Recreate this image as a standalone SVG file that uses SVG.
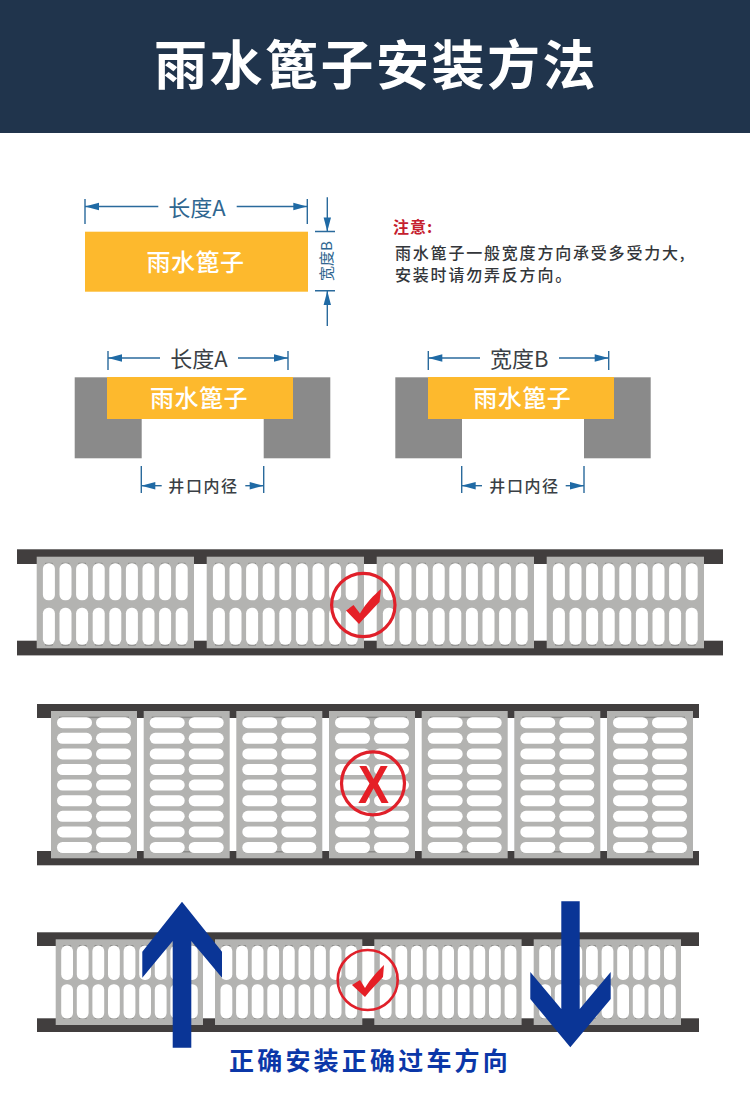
<svg xmlns="http://www.w3.org/2000/svg" width="750" height="1109" viewBox="0 0 750 1109">
<style>
text{font-family:"Noto Sans CJK SC","Liberation Sans",sans-serif}
.latin{font-family:"Liberation Sans","Noto Sans CJK SC",sans-serif}
.yellow{fill:#fdb92d}
.block{fill:#8a8a8a}
.rail{fill:#413e3e}
.panel{fill:#b3b3b1}
.slot{fill:#fff}
.sh{fill:#8c8c8a}
.dim{stroke:#2a6a9c;stroke-width:1.4;fill:none}
.arr{stroke:#2a6a9c;stroke-width:1.4;fill:none;marker-start:url(#head)}
.onY{fill:#fff;font-size:24px;font-weight:500;text-anchor:middle;letter-spacing:.5px}
.dl{font-size:22px;text-anchor:middle}
.well{font-size:16px;font-weight:500;fill:#3a3f45;text-anchor:middle;letter-spacing:1.6px}
.body{font-size:16px;font-weight:500;fill:#33363a;letter-spacing:1.8px}
.ring{fill:none;stroke:#e0202a}
.mark{fill:#e51f26}
.big{fill:#0a3596}
</style>
<defs>
<marker id="head" markerUnits="userSpaceOnUse" markerWidth="15" markerHeight="9" refX="0" refY="4.5" orient="auto"><path d="M0 4.5L14 0.8L14 8.2Z" fill="#1f6aa5"/></marker>
<g id="s1"><rect class="sh" x="2" y="-.5" width="8" height="2" rx="1"/><rect class="slot" width="12" height="37" rx="5.500"/><rect class="sh" x="2" y="80.500" width="8" height="2" rx="1"/><rect class="slot" y="44.500" width="12" height="37" rx="5.500"/></g>
<g id="p1"><rect class="panel" width="157.300" height="91.600"/><g transform="translate(6.200 6.600)"><use href="#s1"/><use href="#s1" x="16.600"/><use href="#s1" x="33.200"/><use href="#s1" x="49.800"/><use href="#s1" x="66.400"/><use href="#s1" x="83"/><use href="#s1" x="99.600"/><use href="#s1" x="116.200"/><use href="#s1" x="132.800"/></g></g>
<g id="s3"><rect class="sh" x="2" y="-.5" width="8" height="2" rx="1"/><rect class="slot" width="11.800" height="34.300" rx="5.500"/><rect class="sh" x="2" y="71.500" width="8" height="2" rx="1"/><rect class="slot" y="38.600" width="11.800" height="34.300" rx="5.500"/></g>
<g id="p3"><rect class="panel" width="147.300" height="85.700"/><g transform="translate(5.500 6.300)"><use href="#s3"/><use href="#s3" x="15.600"/><use href="#s3" x="31.200"/><use href="#s3" x="46.800"/><use href="#s3" x="62.400"/><use href="#s3" x="78"/><use href="#s3" x="93.600"/><use href="#s3" x="109.200"/><use href="#s3" x="124.800"/></g></g>
<g id="s2"><rect class="slot" width="35" height="11" rx="5.500"/><rect class="slot" x="39" width="35" height="11" rx="5.500"/></g>
<g id="p2"><rect class="panel" width="86" height="147.300"/><rect class="sh" x="8" y="5.600" width="70" height="1.500"/><rect class="sh" x="8" y="140" width="70" height="1.500"/><g transform="translate(6 6.200)"><use href="#s2"/><use href="#s2" y="15.600"/><use href="#s2" y="31.200"/><use href="#s2" y="46.800"/><use href="#s2" y="62.400"/><use href="#s2" y="78"/><use href="#s2" y="93.600"/><use href="#s2" y="109.200"/><use href="#s2" y="124.800"/></g></g>
</defs>
<rect width="750" height="1109" fill="#fff"/>
<g id="header"><rect width="750" height="133" fill="#20344c"/><text x="376" y="85" fill="#fff" font-size="53" font-weight="700" text-anchor="middle" letter-spacing="2.500">雨水篦子安装方法</text></g>
<g id="plate-top"><rect class="yellow" x="85" y="231.700" width="223" height="60"/><text class="onY" x="195.500" y="271">雨水篦子</text></g>
<g id="plate-length"><rect class="block" x="74.700" y="377.300" width="67" height="81"/><rect class="block" x="263.700" y="377.300" width="66.600" height="81"/><rect class="yellow" x="107" y="377" width="186" height="42"/><text class="onY" x="199" y="407">雨水篦子</text></g>
<g id="plate-width"><rect class="block" x="395.300" y="377.300" width="66.700" height="81"/><rect class="block" x="584" y="377.300" width="66.700" height="81"/><rect class="yellow" x="428" y="377" width="186" height="42"/><text class="onY" x="522.300" y="407">雨水篦子</text></g>
<g id="connectors">
<path class="dim" d="M85 199V224M307.300 199V224M315 231.500H335M315 290.800H335M108 351V370M288 351V370M141.300 466V493M263.700 466V493M428.300 351V370M608.700 351V370M461.700 466V493M584 466V493"/>
<line class="arr" x1="85" y1="206.500" x2="158.300" y2="206.500"/><line class="arr" x1="307.300" y1="206.500" x2="236.700" y2="206.500"/>
<line class="arr" x1="327.300" y1="231.500" x2="327.300" y2="197.300"/><line class="arr" x1="327.300" y1="291" x2="327.300" y2="326"/>
<line class="arr" x1="108" y1="358" x2="160" y2="358"/><line class="arr" x1="288" y1="358" x2="238" y2="358"/>
<line class="arr" x1="141.300" y1="485.700" x2="161.700" y2="485.700"/><line class="arr" x1="263.700" y1="485.700" x2="245.300" y2="485.700"/>
<line class="arr" x1="428.300" y1="358" x2="480" y2="358"/><line class="arr" x1="608.700" y1="358" x2="559" y2="358"/>
<line class="arr" x1="461.700" y1="485.700" x2="482" y2="485.700"/><line class="arr" x1="584" y1="485.700" x2="565.700" y2="485.700"/>
</g>
<g id="dimension-labels">
<text class="dl" x="197" y="215.500" fill="#2f6690">长度A</text>
<text x="327" y="261" fill="#2f6690" font-size="15" text-anchor="middle" transform="rotate(-90 327 261) translate(0 5)">宽度B</text>
<text class="dl" x="199" y="366.500" fill="#3a3f45">长度A</text>
<text class="well" x="203.500" y="491.500">井口内径</text>
<text class="dl" x="519.300" y="366.500" fill="#3a3f45">宽度B</text>
<text class="well" x="524.500" y="491.500">井口内径</text>
</g>
<g id="note">
<text x="393" y="232.500" fill="#c5202e" font-size="16" font-weight="700" letter-spacing="1">注意:</text>
<text class="body" x="395" y="259">雨水篦子一般宽度方向承受多受力大,</text>
<text class="body" x="395" y="281">安装时请勿弄反方向。</text>
</g>
<g id="row-correct">
<rect class="rail" x="17" y="549.300" width="706" height="14.700"/><rect class="rail" x="17" y="640.700" width="706" height="14.700"/>
<use href="#p1" x="36.700" y="556.700"/><use href="#p1" x="206.700" y="556.700"/><use href="#p1" x="376.700" y="556.700"/><use href="#p1" x="546.700" y="556.700"/>
<g id="check-1"><circle class="ring" cx="363.300" cy="605" r="31.700" stroke-width="3.200"/><path class="mark" d="M346 610.500L353.500 605L360 613.500C366 603 374 595 381 589L379.500 602C372 610 365 617 359 624Z"/></g>
</g>
<g id="row-wrong">
<rect class="rail" x="37" y="704" width="662" height="14"/><rect class="rail" x="37" y="851" width="662" height="14.300"/>
<use href="#p2" x="51" y="711"/><use href="#p2" x="143.700" y="711"/><use href="#p2" x="236.300" y="711"/><use href="#p2" x="329" y="711"/><use href="#p2" x="421.700" y="711"/><use href="#p2" x="514.300" y="711"/><use href="#p2" x="607" y="711"/>
<g id="cross"><circle class="ring" cx="373" cy="783.300" r="31.500" stroke-width="3.200"/><text class="latin mark" x="358" y="802.500" font-size="53" font-weight="700" textLength="31" lengthAdjust="spacingAndGlyphs">X</text></g>
</g>
<g id="row-direction">
<rect class="rail" x="37" y="932.300" width="662" height="13.700"/><rect class="rail" x="37" y="1018.300" width="662" height="13.700"/>
<use href="#p3" x="55.700" y="939.300"/><use href="#p3" x="215" y="939.300"/><use href="#p3" x="374.300" y="939.300"/><use href="#p3" x="533.700" y="939.300"/>
<g id="check-2"><circle class="ring" cx="367.700" cy="980" r="30" stroke-width="2.600"/><path class="mark" d="M352 985L360 980L365 988C371 978 378 971 384 965L383 977C377 984 370 990 365 997Z"/></g>
</g>
<g id="arrow-up"><path class="big" d="M182 901.700L222 951.700V977.700L191.300 941V1047.700H172.700V941L142.300 977.700V951.700Z"/></g>
<g id="arrow-down"><path class="big" d="M561.300 901.300H579.700V1009L610.700 972V999L570.300 1047.300L530.300 999V972L561.300 1009Z"/></g>
<g id="caption"><text x="229" y="1070" fill="#0b37a8" font-size="25" font-weight="700" letter-spacing="3.200">正确安装正确过车方向</text></g>
</svg>
